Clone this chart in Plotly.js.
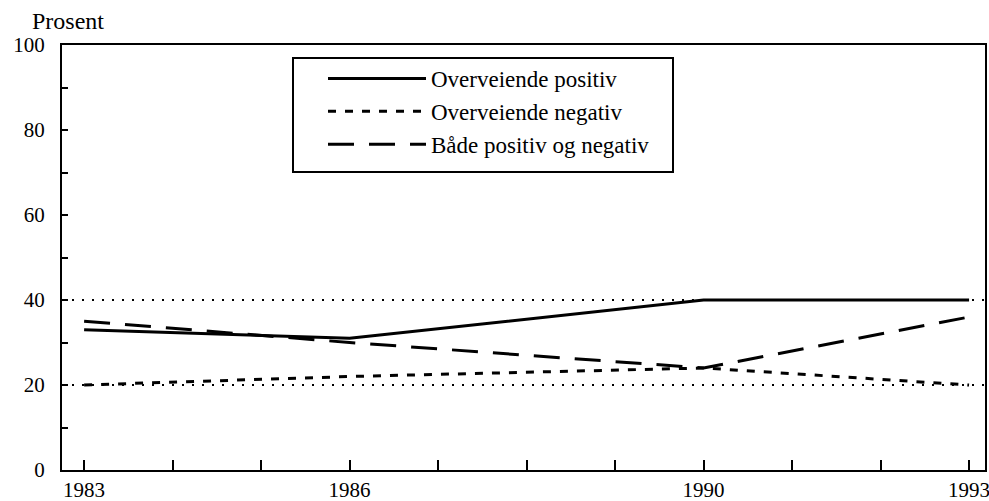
<!DOCTYPE html>
<html>
<head>
<meta charset="utf-8">
<script src="https://cdn.plot.ly/plotly-3.0.1.min.js"></script>
<style>html,body{margin:0;padding:0;background:#fff;}#chart{width:989px;height:501px;}</style>
</head>
<body>
<div id="chart"></div>
<script>
const years = [1983, 1986, 1990, 1993];
const positiv = [33, 31, 40, 40];
const negativ = [20, 22, 24, 20];
const begge = [35, 30, 24, 36];
const seriesNames = ["Overveiende positiv", "Overveiende negativ", "Både positiv og negativ"];
const xTickVals = [1983, 1984, 1985, 1986, 1987, 1988, 1989, 1990, 1991, 1992, 1993];
const xTickText = ["1983", "", "", "1986", "", "", "", "1990", "", "", "1993"];
const yTickVals = [0, 10, 20, 30, 40, 50, 60, 70, 80, 90, 100];
const yTickText = ["0", "", "20", "", "40", "", "60", "", "80", "", "100"];
const refLines = [40, 20];
const yLabel = "Prosent";

const W = 989, H = 501;
const M = {l: 62, r: 4, t: 45, b: 31};
const pw = W - M.l - M.r, ph = H - M.t - M.b;
const px = v => (v - M.l) / pw;          // page x -> paper x
const py = v => (H - M.b - v) / ph;      // page y -> paper y

const family = "Liberation Serif, Times New Roman, serif";
const font = {family: family, size: 21, color: "#000"};

const traces = [
  {x: years, y: positiv, name: seriesNames[0], mode: "lines", line: {color: "#000", width: 3, dash: "solid"}},
  {x: years, y: negativ, name: seriesNames[1], mode: "lines", line: {color: "#000", width: 3, dash: "8px,9px"}},
  {x: years, y: begge, name: seriesNames[2], mode: "lines", line: {color: "#000", width: 3, dash: "26px,15px"}}
];

const shapes = refLines.map(v => ({
  type: "line", xref: "paper", x0: 0, x1: 1, yref: "y", y0: v, y1: v,
  line: {color: "#000", width: 2, dash: "2px,8px"}, layer: "below"
}));
shapes.push({
  type: "rect", xref: "paper", yref: "paper",
  x0: px(293), x1: px(673), y0: py(172), y1: py(58),
  line: {color: "#000", width: 2}, fillcolor: "rgba(0,0,0,0)", layer: "above"
});

const layout = {
  width: W, height: H,
  margin: M,
  paper_bgcolor: "#fff", plot_bgcolor: "#fff",
  font: font,
  showlegend: true,
  legend: {
    x: px(323), y: py(57), xanchor: "left", yanchor: "top",
    borderwidth: 0, bgcolor: "rgba(0,0,0,0)",
    font: {family: family, size: 23, color: "#000"},
    itemwidth: 98, tracegroupgap: 0
  },
  xaxis: {
    range: [1982.75, 1993.18],
    tickmode: "array", tickvals: xTickVals, ticktext: xTickText,
    ticks: "inside", ticklen: 10, tickwidth: 2, tickcolor: "#000",
    showline: true, linecolor: "#000", linewidth: 2, mirror: true,
    showgrid: false, zeroline: false,
    tickfont: font, ticklabeloverflow: "allow", ticklabelstandoff: 0
  },
  yaxis: {
    range: [0, 100],
    tickmode: "array", tickvals: yTickVals, ticktext: yTickText,
    ticks: "inside", ticklen: 6, tickwidth: 2, tickcolor: "#000",
    showline: true, linecolor: "#000", linewidth: 2, mirror: true,
    showgrid: false, zeroline: false,
    tickfont: font, ticklabelstandoff: 11
  },
  shapes: shapes,
  annotations: [{
    text: yLabel, xref: "paper", yref: "paper", x: px(30), y: py(36), xanchor: "left", yanchor: "bottom",
    showarrow: false, font: {family: family, size: 24, color: "#000"}
  }]
};

Plotly.newPlot("chart", traces, layout, {displayModeBar: false, staticPlot: true});
</script>
</body>
</html>
